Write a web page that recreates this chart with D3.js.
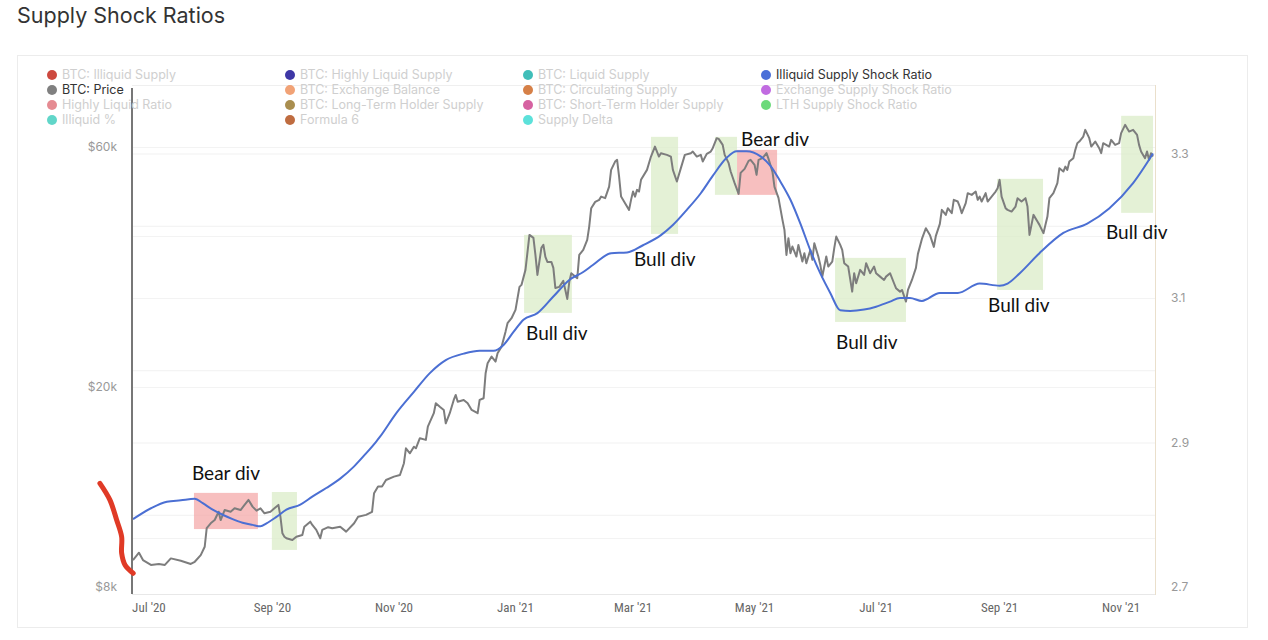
<!DOCTYPE html>
<html><head><meta charset="utf-8">
<script src="https://cdn.jsdelivr.net/npm/d3@7"></script>
<style>body{margin:0;background:#fff;}svg{display:block;}</style>
</head><body>
<svg id="chart" width="1268" height="640"></svg>
<script>
// ---------- DATA ----------
// days since 2020-07-01
const priceDays = [
-8,-5,-3,1,5,8,11,16,21,23,
26,28,29,31,33,35,36,38,41,43,
46,48,50,52,54,56,58,61,63,65,
66,67,68,69,72,74,77,78,81,82,
84,86,87,90,92,96,99,103,105,109,
112,113,115,117,119,123,126,128,129,131,
133,134,136,139,140,143,144,146,148,149,
151,153,154,155,158,160,162,165,166,168,
169,170,172,174,175,177,179,180,182,184,
186,187,189,191,193,194,195,197,198,199,
200,202,203,204,206,208,210,211,212,215,
216,218,220,221,222,224,226,227,229,231,
232,234,235,236,237,239,241,242,243,244,
245,246,247,250,252,254,256,257,260,262,
263,265,267,269,272,273,275,277,278,280,
282,283,285,286,288,289,291,292,294,296,
297,299,301,302,304,305,306,308,310,311,
313,314,316,318,319,320,321,322,323,325,
326,328,329,330,332,333,334,336,337,338,
340,341,343,344,345,347,348,349,351,353,
354,355,357,359,360,362,364,365,367,369,
370,372,374,375,377,378,380,381,383,385,
386,388,390,392,394,395,397,398,400,401,
403,404,406,407,408,410,411,413,415,416,
417,418,420,421,423,425,426,427,428,430,
431,433,435,436,438,440,441,442,444,446,
447,449,451,452,454,456,457,459,460,461,
462,464,465,466,467,469,470,472,473,475,
477,478,479,482,483,485,487,488,490,491,
492,494,496,497,498,500,501,502,503,504];
// BTC price, thousands of USD
const priceK = [
9.05,9.36,9.05,8.85,8.89,8.85,9.12,9.02,8.89,8.98,
9.26,9.62,10.48,10.71,10.87,11.29,10.87,11.38,11.29,11.47,
11.38,11.65,11.92,11.56,11.35,11.47,11.21,11.29,11.47,11.65,
11.04,10.23,10.07,10.00,9.92,10.07,10.15,10.54,10.79,10.63,
10.39,10.00,10.39,10.52,10.47,10.54,10.31,10.71,11.04,11.13,
11.29,12.29,12.67,12.67,13.06,13.26,13.36,14.10,15.10,14.76,
15.21,15.10,15.81,15.69,16.67,17.73,18.56,18.27,18.00,16.93,
17.73,18.84,19.28,18.69,18.84,18.56,18.00,17.73,18.84,18.99,
21.29,22.29,22.98,22.46,23.34,24.05,25.76,26.77,27.39,28.46,
31.62,31.91,34.18,40.12,39.57,36.61,33.40,37.80,38.32,36.28,
35.45,35.45,34.49,31.47,31.62,32.50,29.92,32.35,33.66,32.90,
36.61,37.45,39.21,41.68,45.34,46.67,47.10,47.81,47.47,50.06,
54.03,56.13,56.57,52.40,47.81,46.39,44.99,47.10,48.92,47.81,
49.31,48.92,51.62,54.03,57.43,60.12,57.43,58.33,57.88,57.43,
54.03,51.22,54.46,57.88,58.33,58.76,57.43,57.88,56.13,58.14,
58.76,59.68,62.48,62.28,60.59,57.88,55.72,53.62,50.84,48.41,
53.30,54.28,56.31,56.57,55.29,52.81,56.57,57.01,58.33,56.83,
53.54,49.99,47.53,42.98,41.05,36.61,39.52,36.89,38.03,36.33,
38.32,35.50,36.89,35.24,37.45,35.78,38.62,36.33,34.97,33.14,
36.33,34.70,35.50,37.75,39.81,38.32,37.45,35.24,34.70,30.94,
33.66,32.15,34.18,33.40,35.24,33.66,34.70,33.66,33.14,32.64,
33.14,33.66,32.15,31.43,30.94,31.18,29.56,31.18,32.64,34.49,
36.78,39.39,41.37,40.12,37.98,39.94,42.19,44.99,43.97,45.34,
44.31,47.10,46.74,45.67,44.31,46.39,48.57,48.19,48.92,47.10,
47.81,46.74,48.57,46.74,47.81,48.92,49.69,51.62,47.81,45.34,
44.99,44.64,45.67,47.47,46.74,47.47,45.67,40.12,43.97,42.64,
42.00,40.44,43.63,47.47,48.57,50.84,54.46,53.62,54.86,54.03,
56.13,57.01,59.22,61.06,61.52,62.95,64.90,62.48,60.12,61.52,
59.68,58.33,61.06,60.12,61.99,60.59,61.06,63.94,66.41,65.40,
64.40,64.90,63.43,60.59,58.76,57.01,58.76,56.57,58.33,57.43];
const ratioDays = [
-8,1,9,16,23,27,32,37,42,47,
52,56,59,64,69,76,82,89,96,103,
109,114,116,124,133,141,149,158,166,173,
178,183,188,195,203,211,218,223,232,240,
248,257,263,270,277,283,290,295,300,307,
312,317,322,327,332,337,342,347,352,359,
365,372,377,382,388,397,406,417,427,431,
437,447,459,471,482,494,504];
const ratioValues = [
2.794,2.809,2.818,2.820,2.822,2.816,2.807,2.800,2.794,2.789,
2.786,2.784,2.788,2.797,2.807,2.814,2.825,2.837,2.850,2.867,
2.885,2.901,2.908,2.940,2.970,2.996,3.014,3.023,3.027,3.027,
3.035,3.053,3.070,3.079,3.102,3.125,3.136,3.146,3.162,3.163,
3.173,3.187,3.201,3.222,3.245,3.269,3.294,3.303,3.303,3.296,
3.283,3.261,3.236,3.203,3.166,3.134,3.107,3.083,3.082,3.084,
3.088,3.095,3.100,3.100,3.096,3.107,3.107,3.120,3.117,3.120,
3.134,3.162,3.190,3.203,3.224,3.259,3.300];

const leftTickValues = [8, 20, 60];
const leftTickLabels = ["$8k", "$20k", "$60k"];
const leftGridValues = [10, 20, 30, 40, 60];
const rightTickValues = [2.7, 2.9, 3.1, 3.3];
const rightTickLabels = ["2.7", "2.9", "3.1", "3.3"];
const rightGridValues = [2.8, 2.9, 3.0, 3.1, 3.2, 3.3];
const xTickLabels = ["Jul '20","Sep '20","Nov '20","Jan '21","Mar '21","May '21","Jul '21","Sep '21","Nov '21"];

const legendNames = [
"BTC: Illiquid Supply","BTC: Highly Liquid Supply","BTC: Liquid Supply","Illiquid Supply Shock Ratio",
"BTC: Price","BTC: Exchange Balance","BTC: Circulating Supply","Exchange Supply Shock Ratio",
"Highly Liquid Ratio","BTC: Long-Term Holder Supply","BTC: Short-Term Holder Supply","LTH Supply Shock Ratio",
"Illiquid %","Formula 6","Supply Delta"];
const legendColors = [
"#c4291d","#1c1496","#1fb3ad","#4a6fd8",
"#808080","#ef925e","#cf6a27","#b651dc",
"#e0777f","#9a7a30","#cf4690","#52d464",
"#45cfc0","#b4521e","#3fdcd4"];
const legendActive = [false,false,false,true, true,false,false,false, false,false,false,false, false,false,false];

// annotation boxes: day range and price range (thousands)
const boxStartDay = [22.6, 61.7, 188.3, 252.0, 284.1, 295.2, 344.4, 425.7, 488.0];
const boxEndDay   = [54.7, 74.3, 212.3, 265.6, 295.2, 315.3, 380.0, 448.8, 504.0];
const boxHighK    = [12.31, 12.36, 40.12, 62.86, 62.86, 59.22, 36.11, 51.86, 69.21];
const boxLowK     = [10.43, 9.48, 28.07, 40.30, 48.19, 48.19, 26.93, 31.18, 44.38];
const boxKind     = ["bear","bull","bull","bull","bull","bear","bull","bull","bull"];

const noteText  = ["Bear div","Bull div","Bull div","Bear div","Bull div","Bull div","Bull div"];
const noteDay   = [21.6, 189.3, 243.5, 297.2, 344.9, 421.2, 480.4];
const notePrice = [13.06, 24.80, 34.81, 60.32, 23.80, 28.19, 39.39];

// hand-drawn red mark in left margin (day, price k)
const markDays  = [-24.6, -19.6, -16.2, -13.7, -13.7, -12.0, -7.9];
const markPrice = [12.86, 11.92, 10.87, 10.07, 9.34, 8.85, 8.52];

// ---------- CHART ----------
const svg = d3.select("#chart");
const base = new Date(2020, 6, 1);
const toDate = d => new Date(base.getTime() + d * 864e5);

const x = d3.scaleTime().domain([toDate(-8.5), toDate(505)]).range([132, 1155]);
const yP = d3.scaleLog().domain([8, 60]).range([587, 147]);
const yR = d3.scaleLinear().domain([2.7, 3.3]).range([587, 153.5]);

// title
svg.append("text").attr("x", 17).attr("y", 23)
  .attr("font-family", "Inter, 'Noto Sans', sans-serif").attr("font-size", 21.5)
  .attr("fill", "#333").text("Supply Shock Ratios");

// card
svg.append("rect").attr("x", 17.5).attr("y", 55.5).attr("width", 1230).attr("height", 572)
  .attr("fill", "none").attr("stroke", "#ececec");

// plot top border
svg.append("line").attr("x1", 132).attr("x2", 1155).attr("y1", 85.5).attr("y2", 85.5)
  .attr("stroke", "#efefef");

// grids
svg.append("g").selectAll("line").data(rightGridValues).join("line")
  .attr("x1", 133).attr("x2", 1155).attr("y1", d => yR(d) + 0.5).attr("y2", d => yR(d) + 0.5)
  .attr("stroke", "#f1f1f1");
svg.append("g").selectAll("line").data(leftGridValues).join("line")
  .attr("x1", 133).attr("x2", 1155).attr("y1", d => Math.round(yP(d)) + 0.5).attr("y2", d => Math.round(yP(d)) + 0.5)
  .attr("stroke", "#f3f3f3");

// bottom line
svg.append("line").attr("x1", 132).attr("x2", 1155).attr("y1", 594.5).attr("y2", 594.5)
  .attr("stroke", "#e8e8e8");

// annotation boxes
svg.append("g").selectAll("rect").data(boxStartDay).join("rect")
  .attr("x", (d, i) => x(toDate(d)))
  .attr("width", (d, i) => x(toDate(boxEndDay[i])) - x(toDate(d)))
  .attr("y", (d, i) => yP(boxHighK[i]))
  .attr("height", (d, i) => yP(boxLowK[i]) - yP(boxHighK[i]))
  .attr("fill", (d, i) => boxKind[i] === "bear" ? "#f4a9a9" : "#d9ebc4")
  .attr("opacity", (d, i) => boxKind[i] === "bear" ? 0.75 : 0.7);

// price line
const priceData = priceDays.map((d, i) => ({ date: toDate(d), v: priceK[i] }));
svg.append("path").datum(priceData)
  .attr("fill", "none").attr("stroke", "#7d7d7d").attr("stroke-width", 2)
  .attr("stroke-linejoin", "round")
  .attr("d", d3.line().x(d => x(d.date)).y(d => yP(d.v)));

// ratio line
const ratioData = ratioDays.map((d, i) => ({ date: toDate(d), v: ratioValues[i] }));
svg.append("path").datum(ratioData)
  .attr("fill", "none").attr("stroke", "#4b6fd3").attr("stroke-width", 2)
  .attr("d", d3.line().curve(d3.curveMonotoneX).x(d => x(d.date)).y(d => yR(d.v)));

// axes lines
svg.append("line").attr("x1", 132).attr("x2", 132).attr("y1", 88).attr("y2", 594)
  .attr("stroke", "#777").attr("stroke-width", 2);
svg.append("line").attr("x1", 1155.5).attr("x2", 1155.5).attr("y1", 85).attr("y2", 595)
  .attr("stroke", "#eadfcb");

// left ticks
svg.append("g").selectAll("text").data(leftTickValues).join("text")
  .attr("x", 117).attr("y", d => yP(d)).attr("dy", "0.35em").attr("text-anchor", "end")
  .attr("font-family", "Inter, 'Noto Sans', sans-serif").attr("font-size", 12).attr("fill", "#999")
  .text((d, i) => leftTickLabels[i]);
// right ticks
svg.append("g").selectAll("text").data(rightTickValues).join("text")
  .attr("x", 1171).attr("y", d => yR(d)).attr("dy", "0.35em")
  .attr("font-family", "Inter, 'Noto Sans', sans-serif").attr("font-size", 12).attr("fill", "#999")
  .text((d, i) => rightTickLabels[i]);
// x ticks
const xTicks = x.ticks(d3.timeMonth.every(2));
svg.append("g").selectAll("text").data(xTicks).join("text")
  .attr("x", d => x(d)).attr("y", 612).attr("text-anchor", "middle")
  .attr("font-family", "'Liberation Sans Narrow', 'Roboto Condensed', Inter, sans-serif").attr("font-size", 13).attr("fill", "#666")
  .text((d, i) => xTickLabels[i]);

// legend
const colX = [52, 290, 528, 766], rowY = [75, 90, 105, 120];
const lg = svg.append("g").selectAll("g").data(legendNames).join("g")
  .attr("transform", (d, i) => `translate(${colX[i % 4]},${rowY[Math.floor(i / 4)]})`);
lg.append("circle").attr("r", 5).attr("fill", (d, i) => legendColors[i])
  .attr("opacity", (d, i) => legendActive[i] ? 1 : 0.85);
lg.append("text").attr("x", 10).attr("dy", "0.35em")
  .attr("font-family", "Inter, 'Noto Sans', sans-serif").attr("font-size", 12.5)
  .attr("fill", (d, i) => legendActive[i] ? "#333" : "#cfcfcf")
  .text(d => d);

// notes
svg.append("g").selectAll("text").data(noteText).join("text")
  .attr("x", (d, i) => x(toDate(noteDay[i]))).attr("y", (d, i) => yP(notePrice[i]))
  .attr("font-family", "Lato, 'Open Sans', sans-serif").attr("font-size", 19).attr("fill", "#111")
  .text(d => d);

// red hand mark
const markData = markDays.map((d, i) => ({ date: toDate(d), v: markPrice[i] }));
svg.append("path").datum(markData)
  .attr("fill", "none").attr("stroke", "#e03a26").attr("stroke-width", 5)
  .attr("stroke-linecap", "round").attr("stroke-linejoin", "round")
  .attr("d", d3.line().curve(d3.curveCatmullRom).x(d => x(d.date)).y(d => yP(d.v)));
</script>
</body></html>
